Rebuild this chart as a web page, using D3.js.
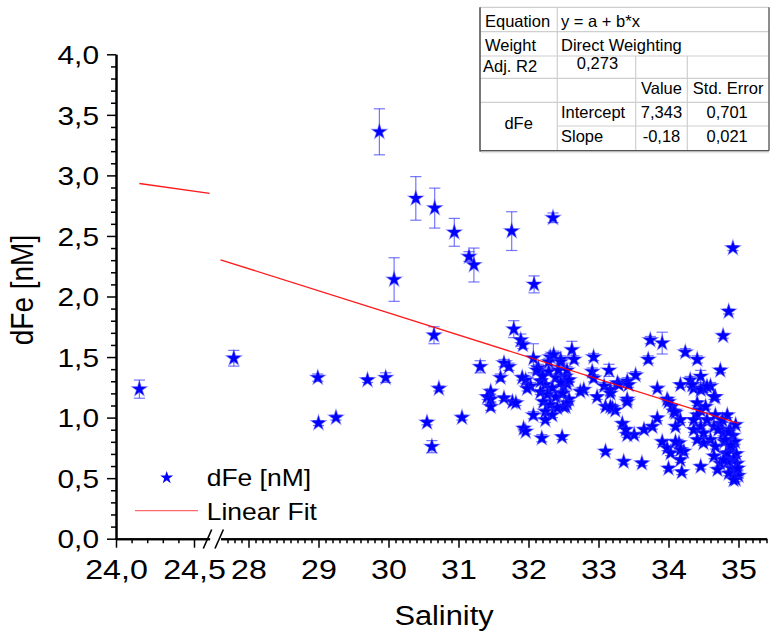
<!DOCTYPE html>
<html><head><meta charset="utf-8">
<script src="https://cdn.jsdelivr.net/npm/d3@7"></script>
<style>
body{margin:0;background:#fff}
svg{display:block}
text{font-family:"Liberation Sans",Arial,Helvetica,sans-serif;fill:#000}
</style>
</head><body>
<svg id="c" width="770" height="635"></svg>
<script>
// ---------------- DATA ----------------
const salinity=[24.15,27.79,28.99,29.00,29.25,29.70,29.96,29.87,30.39,30.66,30.94,31.15,31.22,31.76,32.35,30.08,32.08,30.65,30.72,30.55,30.62,31.05,31.31,31.79,31.89,31.92,31.65,31.72,31.60,31.46,31.41,31.46,31.46,31.65,31.77,31.82,31.96,32.03,32.07,31.93,31.96,32.19,32.48,32.31,32.07,32.46,32.62,32.65,32.93,32.91,32.93,32.79,32.74,32.98,32.58,32.53,33.10,33.08,33.10,34.86,34.78,34.92,33.74,33.91,33.71,34.24,34.41,34.74,33.15,33.53,33.41,33.27,33.17,33.84,33.41,33.20,33.24,34.17,34.31,34.46,34.60,34.67,34.50,34.36,33.98,34.05,34.10,34.41,34.46,34.41,34.84,33.84,33.77,33.65,33.51,33.41,33.34,33.39,34.17,34.10,33.91,33.98,34.03,34.15,34.22,34.17,33.36,33.62,34.00,34.19,34.46,34.36,34.46,34.50,34.60,34.67,34.50,34.41,34.65,34.74,34.70,34.65,34.74,34.88,34.92,34.95,34.90,34.97,34.93,34.98,34.90,34.95,35.00,34.96,34.85,34.82,34.80,34.86,34.99,34.78,34.84,34.93,34.79,32.53,32.55,32.50,32.48,32.55,32.50,33.17,33.29,33.43,33.41,33.17,34.00,34.08,34.10,34.17,34.34,34.46,34.55,34.65,34.36,34.55,34.53,34.67,34.77,34.71,34.86,34.96,34.81,34.89,32.20,32.29,32.39,32.24,32.34,32.46,32.17,32.27,32.39,32.49,32.21,32.31,32.41,32.24,32.34,32.17,32.43,32.29,32.14,32.36,32.24,32.46,32.55,32.58,31.91,31.98,32.12,32.20];
const dFe=[1.235,1.49,1.33,0.955,1.00,1.31,1.33,3.36,2.81,2.73,2.53,2.33,2.26,2.54,2.65,2.14,2.10,1.68,1.24,0.96,0.76,1.00,1.42,1.73,1.64,1.60,1.45,1.42,1.33,1.215,1.17,1.15,1.09,1.16,1.13,1.12,1.31,1.26,1.02,0.91,0.885,0.83,0.84,1.50,1.49,1.48,1.56,1.48,1.50,1.38,1.325,1.23,1.215,1.17,1.15,1.09,0.72,1.26,1.09,1.876,1.675,2.40,1.64,1.615,1.48,1.54,1.48,1.39,1.39,1.35,1.30,1.285,1.23,1.24,1.15,1.08,1.06,1.27,1.31,1.34,1.26,1.17,1.24,1.24,1.15,1.09,1.04,1.12,1.06,1.02,1.02,0.995,0.925,0.90,0.857,0.857,0.95,0.90,0.98,0.925,0.80,0.747,0.706,0.79,0.72,0.65,0.636,0.623,0.58,0.55,0.595,0.898,0.926,0.871,0.816,0.76,0.79,0.816,0.68,0.62,0.57,0.925,0.95,0.90,0.85,0.80,0.75,0.70,0.66,0.62,0.58,0.55,0.52,0.49,0.64,0.70,0.80,0.54,0.58,0.87,0.706,0.485,0.65,1.34,1.28,1.255,1.20,1.12,1.09,1.20,1.27,1.27,1.13,1.09,1.13,1.05,0.80,0.733,1.27,1.23,1.256,1.17,0.98,0.98,1.09,1.02,0.98,0.90,0.88,0.94,0.816,0.77,1.35,1.38,1.33,1.27,1.245,1.29,1.21,1.19,1.17,1.20,1.13,1.105,1.08,1.05,1.02,1.30,1.39,1.46,1.41,1.52,0.98,1.46,1.39,1.31,1.33,1.24,1.39,1.34];
const dFeError=[0.075,0.065,0.03,0.02,0.02,0.02,0.04,0.19,0.18,0.165,0.115,0.04,0.14,0.16,0.04,0.18,0.07,0.07,0.02,0.02,0.05,0.02,0.05,0.07,0.05,0.03,0.03,0.03,0.03,0.02,0.02,0.02,0.03,0.02,0.02,0.02,0.03,0.03,0.03,0.02,0.02,0.03,0.02,0.03,0.12,0.03,0.07,0.03,0.03,0.03,0.03,0.02,0.02,0.02,0.02,0.02,0.02,0.03,0.02,0.02,0.02,0.02,0.03,0.09,0.03,0.03,0.03,0.02,0.05,0.03,0.03,0.02,0.02,0.02,0.02,0.02,0.02,0.02,0.03,0.05,0.03,0.02,0.03,0.02,0.02,0.02,0.02,0.02,0.02,0.02,0.02,0.02,0.02,0.02,0.02,0.02,0.02,0.02,0.02,0.02,0.02,0.02,0.02,0.02,0.02,0.02,0.02,0.02,0.02,0.02,0.02,0.02,0.02,0.02,0.02,0.02,0.02,0.02,0.02,0.02,0.02,0.02,0.02,0.02,0.02,0.02,0.02,0.02,0.02,0.02,0.02,0.02,0.02,0.02,0.02,0.02,0.02,0.02,0.02,0.02,0.02,0.02,0.02,0.03,0.02,0.02,0.02,0.02,0.02,0.02,0.02,0.02,0.02,0.02,0.02,0.02,0.02,0.02,0.02,0.02,0.02,0.02,0.02,0.02,0.02,0.02,0.02,0.02,0.02,0.02,0.02,0.02,0.03,0.03,0.03,0.02,0.02,0.02,0.02,0.02,0.02,0.02,0.02,0.02,0.02,0.02,0.02,0.02,0.03,0.03,0.03,0.03,0.02,0.03,0.03,0.02,0.02,0.02,0.03,0.02];

const fitIntercept=7.343, fitSlope=-0.1826;

const yTicks=[0,0.5,1,1.5,2,2.5,3,3.5,4];
const yTickLabels=["0,0","0,5","1,0","1,5","2,0","2,5","3,0","3,5","4,0"];
const xTicksA=[24,24.5];
const xTickLabelsA=["24,0","24,5"];
const xTicksB=[28,29,30,31,32,33,34,35];
const xTickLabelsB=["28","29","30","31","32","33","34","35"];
const legendLabels=["dFe [nM]","Linear Fit"];
const tableCol1=["Equation","Weight","Adj. R2","","dFe"];
const tableMerged=["y = a + b*x","Direct Weighting"];
const tableR2="0,273";
const tableHeader=["Value","Std. Error"];
const tableParams=["Intercept","Slope"];
const tableValues=["7,343","-0,18"];
const tableErrors=["0,701","0,021"];

// ---------------- SCALES ----------------
const svg=d3.select("#c");
const y=d3.scaleLinear().domain([0,4]).range([538.7,54.3]);
const xA=d3.scaleLinear().domain([24,24.6]).range([116,209.6]);
const xB=d3.scaleLinear().domain([27.6,35.4]).range([220.5,766.5]);
const X=v=>v<=24.6?xA(v):xB(v);
const FONT='"Liberation Sans",Arial,Helvetica,sans-serif';

function styleAxis(g,w){
  g.attr("font-size",null).attr("font-family",null);
  g.selectAll(".domain").attr("stroke","#000").attr("stroke-width",2);
  g.selectAll(".tick line").attr("stroke","#000").attr("stroke-width",w);
}

// ---------------- Y AXIS ----------------
const yMinor=d3.range(0,41).filter(i=>i%5!==0).map(i=>i/10);
const gyMin=svg.append("g").attr("transform","translate(116,0)")
  .call(d3.axisLeft(y).tickValues(yMinor).tickSize(5).tickSizeOuter(0).tickFormat(""));
styleAxis(gyMin,1.5);
const gy=svg.append("g").attr("transform","translate(116,0)")
  .call(d3.axisLeft(y).tickValues(yTicks).tickSize(9).tickSizeOuter(0).tickFormat((d,i)=>yTickLabels[i]));
styleAxis(gy,1.5);
gy.selectAll(".tick text").attr("x",null).attr("dy",null)
  .attr("transform","translate(-17,9.2) scale(1.17,1)")
  .attr("text-anchor","end").style("font-size","25.5px").style("font-family",FONT).attr("fill","#000");

// ---------------- X AXIS ----------------
function xAxisSeg(scale,major,labels,minor){
  const gm=svg.append("g").attr("transform","translate(0,538.7)")
    .call(d3.axisBottom(scale).tickValues(minor).tickSize(4.5).tickSizeOuter(0).tickFormat(""));
  styleAxis(gm,1.5);
  const g=svg.append("g").attr("transform","translate(0,538.7)")
    .call(d3.axisBottom(scale).tickValues(major).tickSize(9).tickSizeOuter(0).tickFormat((d,i)=>labels[i]));
  styleAxis(g,1.5);
  g.selectAll(".tick text").attr("y",null).attr("dy",null)
    .attr("transform","translate(0,39.8) scale(1.15,1)")
    .attr("text-anchor","middle").style("font-size","28px").style("font-family",FONT).attr("fill","#000");
}
xAxisSeg(xA,xTicksA,xTickLabelsA,d3.range(241,246).map(i=>i/10).filter(v=>Math.abs(v-24.5)>1e-6));
xAxisSeg(xB,xTicksB,xTickLabelsB,d3.range(277,355).filter(i=>i%10!==0).map(i=>i/10));

// break marks
[207.5,219.2].forEach(cx=>{
  svg.append("line").attr("x1",cx-4.2).attr("y1",548.5).attr("x2",cx+4.2).attr("y2",529.5)
    .attr("stroke","#000").attr("stroke-width",1.6);
});

// axis titles
svg.append("text").attr("transform","translate(33,290) scale(1.15,1) rotate(-90)")
  .attr("text-anchor","middle").style("font-size","28px").text("dFe [nM]");
svg.append("text").attr("transform","translate(444,625) scale(1.1,1)")
  .attr("text-anchor","middle").style("font-size","28px").text("Salinity");

// ---------------- DATA MARKS ----------------
const pts=salinity.map((s,i)=>({s,v:dFe[i],e:dFeError[i]}));
const errCol="rgba(60,60,255,0.7)";
const eb=svg.append("g");
pts.forEach(p=>{
  const cx=X(p.s), y1=y(p.v+p.e), y2=y(p.v-p.e);
  eb.append("line").attr("x1",cx).attr("x2",cx).attr("y1",y1).attr("y2",y2).attr("stroke",errCol).attr("stroke-width",1.2);
  eb.append("line").attr("x1",cx-5.6).attr("x2",cx+5.6).attr("y1",y1).attr("y2",y1).attr("stroke",errCol).attr("stroke-width",1.2);
  eb.append("line").attr("x1",cx-5.6).attr("x2",cx+5.6).attr("y1",y2).attr("y2",y2).attr("stroke",errCol).attr("stroke-width",1.2);
});
const star=d3.symbol().type(d3.symbolStar).size(68);
svg.append("g").selectAll("path").data(pts).join("path")
  .attr("d",star).attr("transform",d=>`translate(${X(d.s)},${y(d.v)})`)
  .attr("fill","#0000ff").attr("stroke","rgba(40,40,255,0.45)").attr("stroke-width",1.2);

// fit line (two segments across the axis break)
const sMin=d3.min(salinity), sMax=d3.max(salinity);
const fit=s=>fitIntercept+fitSlope*s;
const lineGen=d3.line().x(d=>X(d)).y(d=>y(fit(d)));
[[Math.max(sMin,24),24.6],[27.6,sMax]].forEach(seg=>{
  svg.append("path").attr("d",lineGen(seg)).attr("fill","none")
    .attr("stroke","#ff0000").attr("stroke-width",1.3).attr("opacity",0.9);
});

// ---------------- LEGEND ----------------
svg.append("path").attr("d",d3.symbol().type(d3.symbolStar).size(52)())
  .attr("transform","translate(166.7,477.7)").attr("fill","#0000ff");
svg.append("line").attr("x1",135).attr("x2",198).attr("y1",510.7).attr("y2",510.7)
  .attr("stroke","#ff6a6a").attr("stroke-width",1.3);
legendLabels.forEach((t,i)=>{
  svg.append("text").attr("transform",`translate(206.7,${[486,520][i]}) scale(1.15,1)`)
    .style("font-size","23px").text(t);
});

// ---------------- TABLE ----------------
const C=[480,557.3,635.7,687.3,769], R=[7.3,31.7,56,78.3,102.3,126,150.7];
const tb=svg.append("g");
tb.append("rect").attr("x",C[0]).attr("y",R[0]).attr("width",C[4]-C[0]).attr("height",R[6]-R[0]).attr("fill","#fff");
const light="#cfcfcf";
function ln(x1,y1,x2,y2,c,w){tb.append("line").attr("x1",x1).attr("y1",y1).attr("x2",x2).attr("y2",y2).attr("stroke",c).attr("stroke-width",w);}
ln(C[0],R[0],C[4],R[0],light,1.2);
[1,2,3,4].forEach(r=>ln(C[0],R[r],C[4],R[r],light,1.2));
ln(C[1],R[5],C[4],R[5],light,1.2);
ln(C[1],R[0],C[1],R[6],light,1.2);
ln(C[2],R[2],C[2],R[6],light,1.2);
ln(C[3],R[2],C[3],R[6],light,1.2);
ln(C[4],R[0],C[4],R[6],"#666",1.5);
ln(C[0],R[0],C[0],R[6]+0.7,"#555",1.6);
ln(C[0],R[6],C[4],R[6],"#555",1.6);
ln(C[0]+1,R[6]+1.8,C[4],R[6]+1.8,"#e6e6e6",1.5);

function tt(x,yy,t,anchor){tb.append("text").attr("x",x).attr("y",yy).attr("text-anchor",anchor||"start").style("font-size","16.5px").text(t);}
tt(485,27,tableCol1[0]); tt(485,50.5,tableCol1[1]); tt(483,71.5,tableCol1[2]);
tt((C[0]+C[1])/2,129,tableCol1[4],"middle");
tt(561,27,tableMerged[0]); tt(561,50.5,tableMerged[1]);
tt((C[1]+C[2])/2+1,68.5,tableR2,"middle");
tt((C[2]+C[3])/2,94,tableHeader[0],"middle"); tt((C[3]+C[4])/2,94,tableHeader[1],"middle");
tableParams.forEach((p,i)=>{
  const by=[118,141.5][i];
  tt(561,by,p);
  tt((C[2]+C[3])/2,by,tableValues[i],"middle");
  tt((C[3]+C[4])/2-1,by,tableErrors[i],"middle");
});
</script>
</body></html>
